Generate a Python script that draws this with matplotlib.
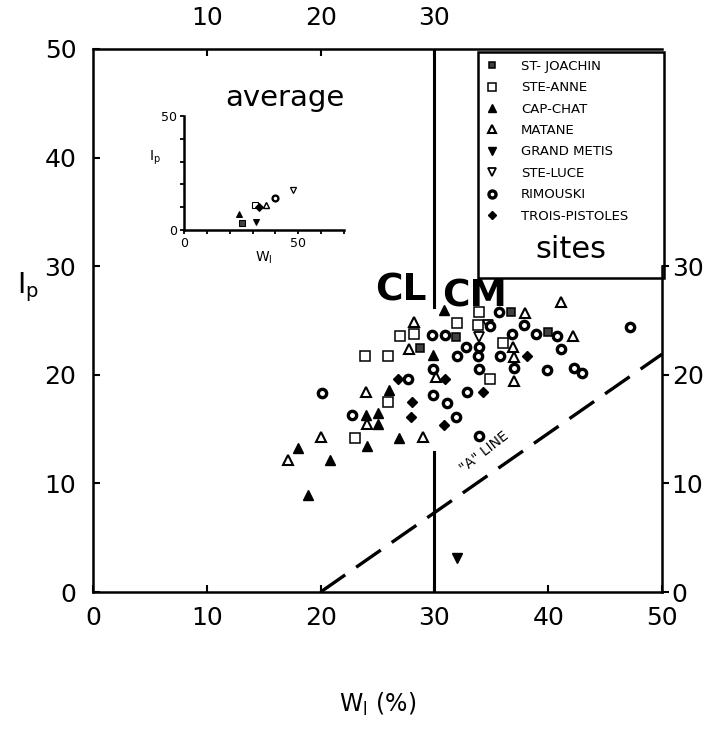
import matplotlib
matplotlib.use("Agg")
import matplotlib.pyplot as plt
from matplotlib.patches import Rectangle
from matplotlib.lines import Line2D

# ---------------- data ----------------
sites = ["ST- JOACHIN", "STE-ANNE", "CAP-CHAT", "MATANE",
         "GRAND METIS", "STE-LUCE", "RIMOUSKI", "TROIS-PISTOLES"]

stjoachin_wl = [31.9, 36.7, 40.0, 28.7]
stjoachin_ip = [23.5, 25.8, 23.9, 22.5]

steanne_wl = [23.0, 25.9, 23.9, 25.9, 27.0, 28.2, 32.0, 33.9, 33.8, 36.0, 34.9]
steanne_ip = [14.2, 17.5, 21.7, 21.7, 23.6, 23.8, 24.8, 25.8, 24.6, 22.9, 19.6]

capchat_wl = [18.0, 20.8, 18.9, 24.1, 26.9, 26.0, 24.0, 25.0, 25.0, 29.9, 30.8]
capchat_ip = [13.3, 12.2, 8.9, 13.4, 14.2, 18.6, 16.3, 16.5, 15.5, 21.8, 26.0]

matane_wl = [17.1, 20.0, 24.0, 24.1, 29.0, 28.2, 27.8, 30.1, 38.0, 41.1, 42.2, 36.9, 37.0, 37.0]
matane_ip = [12.2, 14.3, 18.4, 15.5, 14.3, 24.9, 22.4, 19.8, 25.7, 26.7, 23.6, 22.6, 21.6, 19.4]

grandmetis_wl = [32.0]
grandmetis_ip = [3.1]

steluce_wl = [33.9, 34.7]
steluce_ip = [23.5, 24.6]

rimouski_wl = [20.1, 22.8, 27.7, 29.9, 29.9, 31.1, 32.9, 31.9, 33.9, 29.8, 30.9,
               32.0, 32.8, 34.9, 35.7, 37.9, 36.8, 38.9, 40.8, 41.1, 47.2, 33.8,
               35.8, 33.9, 37.0, 39.9, 42.3, 43.0, 33.9]
rimouski_ip = [18.3, 16.3, 19.6, 20.5, 18.1, 17.4, 18.4, 16.1, 14.4, 23.7, 23.7,
               21.7, 22.6, 24.5, 25.8, 24.6, 23.8, 23.8, 23.6, 22.4, 24.4, 21.7,
               21.7, 20.5, 20.6, 20.4, 20.6, 20.2, 22.6]

troispistoles_wl = [28.0, 27.9, 30.8, 26.8, 30.9, 38.1, 34.3]
troispistoles_ip = [17.5, 16.1, 15.4, 19.6, 19.6, 21.7, 18.4]

# site averages (inset)
avg_wl = [25.2, 30.9, 23.9, 36.0, 31.7, 47.8, 40.0, 33.0]
avg_ip = [3.1, 11.0, 7.0, 11.0, 3.5, 17.5, 14.0, 10.0]

# A-line: Ip = 0.73 (wL - 20)
aline_wl = [20, 50]
aline_ip = [0.73 * (w - 20) for w in aline_wl]

# CL / CM divider at wL = 30
divider_wl = 30
divider_upper = [26.2, 50]
divider_lower = [0, 12.9]

bottom_ticks = [0, 10, 20, 30, 40, 50]
left_ticks = [0, 10, 20, 30, 40, 50]
top_ticks = [10, 20, 30]
right_ticks = [0, 10, 20, 30]

# ---------------- styles ----------------
styles = [
    dict(marker="s", mfc="0.25", mec="black", mew=1.1, ms=5.5),
    dict(marker="s", mfc="white", mec="black", mew=1.1, ms=6.5),
    dict(marker="^", mfc="black", mec="black", mew=1.0, ms=7),
    dict(marker="^", mfc="white", mec="black", mew=1.5, ms=7),
    dict(marker="v", mfc="black", mec="black", mew=1.0, ms=7),
    dict(marker="v", mfc="white", mec="black", mew=1.3, ms=7),
    dict(marker="o", mfc="white", mec="black", mew=2.4, ms=6),
    dict(marker="D", mfc="black", mec="black", mew=1.0, ms=5.2),
]
series = [
    (stjoachin_wl, stjoachin_ip), (steanne_wl, steanne_ip),
    (capchat_wl, capchat_ip), (matane_wl, matane_ip),
    (grandmetis_wl, grandmetis_ip), (steluce_wl, steluce_ip),
    (rimouski_wl, rimouski_ip), (troispistoles_wl, troispistoles_ip),
]

FONT = "DejaVu Sans"
plt.rcParams["font.family"] = FONT

fig = plt.figure(figsize=(7.14, 7.42), dpi=100)
L, R, B, T = 93 / 714, 662 / 714, 1 - 592 / 742, 1 - 49 / 742
ax = fig.add_axes([L, B, R - L, T - B])
ax.set_xlim(0, 50)
ax.set_ylim(0, 50)

for (xs, ys), st in zip(series, styles):
    ax.plot(xs, ys, linestyle="none", color="black", zorder=3, **st)

# A-line
ax.plot(aline_wl, aline_ip, color="black", lw=2.4, dashes=(9, 4), zorder=2)
ax.text(34.4, 12.9, '"A" LINE', rotation=38, fontsize=10, ha="center",
        va="center")

# divider line
ax.plot([divider_wl] * 2, divider_upper, color="black", lw=2.2, zorder=2)
ax.plot([divider_wl] * 2, divider_lower, color="black", lw=2.2, zorder=2)

ax.text(29.3, 27.8, "CL", fontsize=27, fontweight="bold", ha="right", va="center")
ax.text(30.7, 27.2, "CM", fontsize=27, fontweight="bold", ha="left", va="center")

# spines & ticks
for s in ["left", "bottom", "top", "right"]:
    ax.spines[s].set_linewidth(1.8)
ax.spines["right"].set_bounds(0, 30)
ax.set_xticks(bottom_ticks)
ax.set_yticks(left_ticks)
ax.tick_params(axis="both", direction="in", length=5, width=1.5,
               labelsize=18, pad=12)
ax.tick_params(axis="x", pad=10)

secx = ax.secondary_xaxis("top")
secx.set_xticks(top_ticks)
secx.tick_params(direction="in", length=5, width=1.5, labelsize=18, pad=14)
secx.spines["top"].set_visible(False)

secy = ax.secondary_yaxis("right")
secy.set_yticks(right_ticks)
secy.tick_params(direction="out", length=5, width=1.5, labelsize=18, pad=2)
secy.spines["right"].set_visible(False)

ax.set_xlabel("W$_\\mathregular{l}$ (%)", fontsize=17, labelpad=44)
ax.set_ylabel("I$_\\mathregular{p}$", fontsize=20, rotation=0, labelpad=18)
ax.yaxis.set_label_coords(-0.115, 0.53)

# legend box
box = Rectangle((0.677, 0.578), 0.327, 0.417, transform=ax.transAxes,
                fill=False, edgecolor="black", lw=1.8, zorder=4, clip_on=False)
ax.add_patch(box)
handles = [Line2D([], [], linestyle="none", color="black", **st) for st in styles]
for h in handles:
    h.set_markersize(h.get_markersize() * 0.85)
leg = ax.legend(handles, sites, loc="upper left", bbox_to_anchor=(0.68, 0.99),
                frameon=False, handlelength=1.0, handletextpad=1.7,
                labelspacing=0.64, borderaxespad=0.0,
                prop=dict(size=9.5))
ax.text(0.84, 0.63, "sites", transform=ax.transAxes, fontsize=22,
        ha="center", va="center")

# inset (averages)
iax = fig.add_axes([184 / 714, 1 - 230 / 742, 160 / 714, 114 / 742])
iax.set_xlim(0, 70)
iax.set_ylim(0, 50)
for s in ["top", "right"]:
    iax.spines[s].set_visible(False)
for s in ["left", "bottom"]:
    iax.spines[s].set_linewidth(1.8)
iax.set_xticks([0, 50])
iax.set_yticks([0, 50])
iax.set_xticks(range(0, 71, 10), minor=True)
iax.set_yticks(range(0, 51, 10), minor=True)
iax.tick_params(which="both", direction="out", length=3, width=1.3,
                labelsize=9, pad=2)
for (x, y), st in zip(zip(avg_wl, avg_ip), styles):
    s2 = dict(st)
    s2["ms"] = st["ms"] * 0.7
    s2["mew"] = st["mew"] * 0.7
    iax.plot([x], [y], linestyle="none", color="black", **s2)
iax.set_xlabel("W$_\\mathregular{l}$", fontsize=10, labelpad=0)
iax.set_ylabel("I$_\\mathregular{p}$", fontsize=10, rotation=0, labelpad=8)
iax.yaxis.set_label_coords(-0.18, 0.55)
iax.patch.set_alpha(0)
fig.text(285 / 714, 1 - 98 / 742, "average", fontsize=21, ha="center", va="center")

fig.savefig("out.png", dpi=100)
